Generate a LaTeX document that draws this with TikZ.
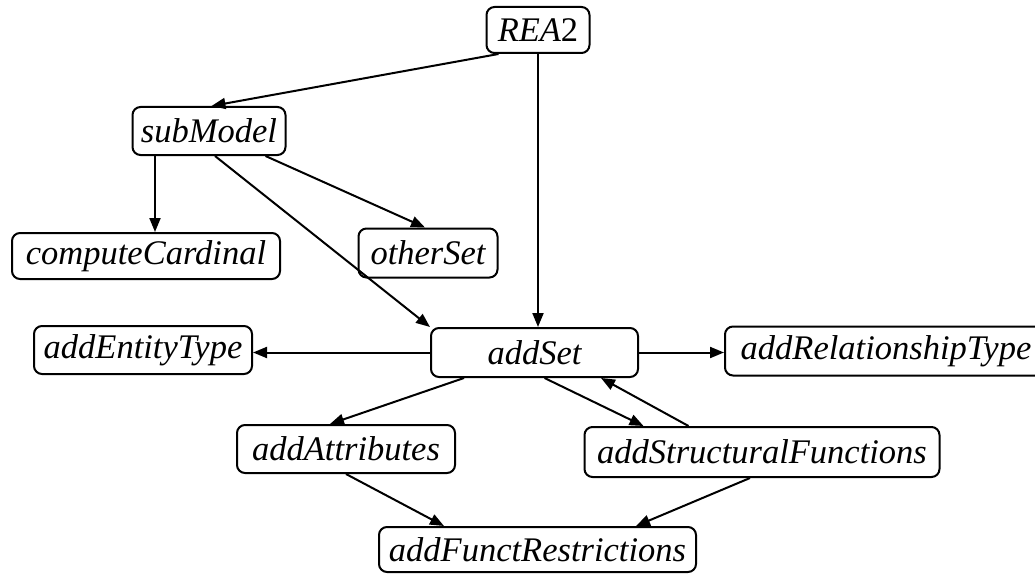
\documentclass[tikz,border=0pt]{standalone}
\usepackage{fontspec}
\setmainfont{Liberation Serif}
\usetikzlibrary{arrows.meta}
\begin{document}
\begin{tikzpicture}[x=1pt,y=-1pt,
  box/.style={draw, line width=2pt, rounded corners=8pt, inner sep=0pt, align=center,
    font=\fontsize{34.5}{40}\selectfont\itshape},
  link/.style={line width=2pt, -{Triangle[length=14pt,width=11pt]}}]
\useasboundingbox (0,0) rectangle (1035,575);
\node[box, minimum width=103pt, minimum height=46pt] (REA) at (538,30) {REA\upshape 2};
\node[box, minimum width=153pt, minimum height=48pt] (sub) at (209,131) {subModel};
\node[box, minimum width=268pt, minimum height=46pt] (cc) at (146,256) {computeCardinal};
\node[box, minimum width=139pt, minimum height=49pt] (os) at (428,253) {otherSet};
\node[box, minimum width=207pt, minimum height=49pt] (as) at (534.5,352.5) {addSet};
\node[box, minimum width=218pt, minimum height=48pt] (aet) at (143,350) {addEntityType};
\node[box, minimum width=322pt, minimum height=49pt] (art) at (886,351) {addRelationshipType};
\node[box, minimum width=218pt, minimum height=48pt] (aa) at (346,449) {addAttributes};
\node[box, minimum width=355pt, minimum height=50pt] (asf) at (762,452) {addStructuralFunctions};
\node[box, minimum width=317pt, minimum height=45pt] (afr) at (537.5,549.5) {addFunctRestrictions};

\draw[link] ([xshift=13pt]REA.south west) -- ([xshift=80pt]sub.north west);
\draw[link] (REA.south) -- (REA.south |- as.north);
\draw[link] ([xshift=-54pt]sub.south) -- ([xshift=-54pt]sub.south |- cc.north);
\draw[link] ([xshift=-21pt]sub.south east) -- ([xshift=-3pt]os.north);
\draw[link] ([xshift=6pt]sub.south) -- (as.north west);
\draw[link] (as.west) -- (as.west -| aet.east);
\draw[link] (as.east) -- (as.east -| art.west);
\draw[link] ([xshift=34pt]as.south west) -- ([xshift=-16pt]aa.north);
\draw[link] ([xshift=10pt]as.south) -- ([xshift=60pt]asf.north west);
\draw[link] ([xshift=105pt]asf.north west) -- ([xshift=-38pt]as.south east);
\draw[link] (aa.south) -- ([xshift=66pt]afr.north west);
\draw[link] ([xshift=-12pt]asf.south) -- ([xshift=-61pt]afr.north east);
\end{tikzpicture}
\end{document}
